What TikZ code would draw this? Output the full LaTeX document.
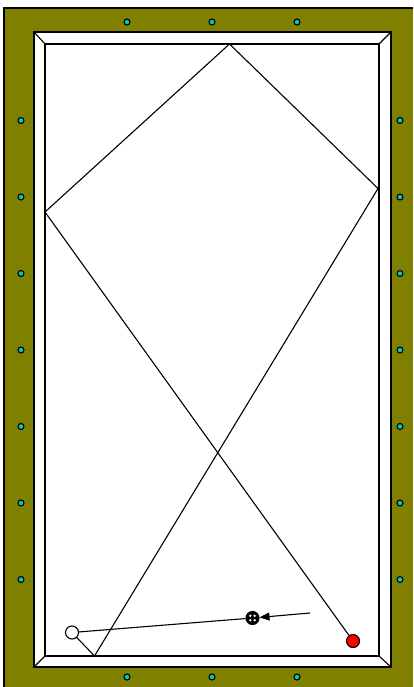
\documentclass[tikz,border=0pt]{standalone}
\usetikzlibrary{arrows.meta}
\definecolor{felt}{RGB}{128,128,0}
\definecolor{sightc}{RGB}{0,200,200}
\tikzset{
  sight/.style={circle,draw=black,fill=sightc,line width=1.1pt,inner sep=0pt,minimum size=6pt},
  ball/.style={circle,draw=black,line width=1.1pt,inner sep=0pt,minimum size=13pt},
  trackline/.style={line width=1.1pt,black},
}
\begin{document}
\begin{tikzpicture}[x=1pt,y=-1pt]
\useasboundingbox (0,0) rectangle (413,687);
% outer frame
\fill[felt] (4,8) rectangle (413,687);
\draw[line width=1.3pt] (4,687) -- (4,8) -- (413,8);
% cushion
\draw[fill=white,line width=1.1pt] (34,32) rectangle (391,667);
\draw[fill=white,line width=1.1pt] (45,44) rectangle (379,656);
\draw[line width=1.1pt] (34,32) -- (45,44) (391,32) -- (379,44) (34,667) -- (45,656) (391,667) -- (379,656);
% sights
\foreach \x [count=\i] in {127,212,297} {
  \node[sight] (st\i) at (\x,22) {};
  \node[sight] (sb\i) at (\x,677) {};
}
\foreach \y [count=\i] in {120.5,197,273.5,350,426.5,503,579.5} {
  \node[sight] (sl\i) at (21,\y) {};
  \node[sight] (sr\i) at (400,\y) {};
}
% balls
\node[ball,fill=white] (wb) at (72,632.5) {};
\node[ball,fill=red] (rb) at (353,641) {};
\node[ball,fill=black] (ob) at (252.5,618) {};
\foreach \dx/\dy in {-2.2/-2.2,2.2/-2.2,-2.2/2.2,2.2/2.2} \fill[white] (252.5+\dx,618+\dy) circle (1.3);
% bounce points
\coordinate (p1) at (94.5,656);
\coordinate (p2) at (378,188.5);
\coordinate (p3) at (229.5,44);
\coordinate (p4) at (45,212);
\coordinate (aS) at (310,613);
\draw[trackline] (wb) -- (p1) -- (p2) -- (p3) -- (p4) -- (rb);
\draw[trackline] (wb) -- (ob);
\draw[trackline,-{Triangle[length=10pt,width=8pt]}] (aS) -- (ob);
\end{tikzpicture}
\end{document}
